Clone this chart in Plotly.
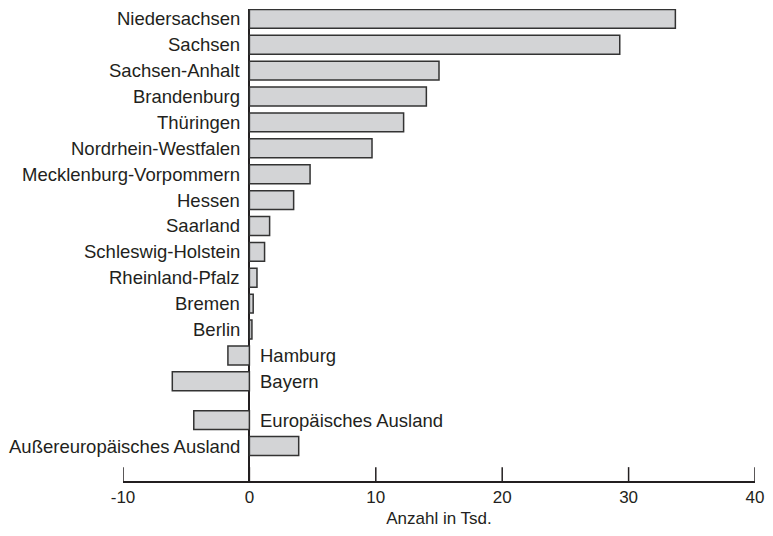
import plotly.graph_objects as go

categories = ["Niedersachsen", "Sachsen", "Sachsen-Anhalt", "Brandenburg", "Thüringen",
              "Nordrhein-Westfalen", "Mecklenburg-Vorpommern", "Hessen", "Saarland",
              "Schleswig-Holstein", "Rheinland-Pfalz", "Bremen", "Berlin", "Hamburg",
              "Bayern", "Europäisches Ausland", "Außereuropäisches Ausland"]
values = [33.7, 29.3, 15.0, 14.0, 12.2, 9.7, 4.8, 3.5, 1.6, 1.2, 0.6, 0.3, 0.2,
          -1.7, -6.1, -4.4, 3.9]
# row positions (gap before the foreign-country rows)
rows = [0, 1, 2, 3, 4, 5, 6, 7, 8, 9, 10, 11, 12, 13, 14, 15.5, 16.5]
x_ticks = [-10, 0, 10, 20, 30, 40]
x_title = "Anzahl in Tsd."

FONT = "Liberation Sans, Arial, sans-serif"
TXT = "#231f20"
FS = 18.5
FS_TICK = 17

# page body has an 8px margin, so the figure is 16px smaller than the window
W, H = 757, 520
M = dict(l=115, r=3, t=1, b=42)
TICKLEN = 14

fig = go.Figure()
fig.add_trace(go.Bar(
    x=values, y=rows, orientation="h", width=0.73,
    marker=dict(color="#d3d4d6", line=dict(color="#333333", width=1.5)),
    hoverinfo="skip",
))

for cat, v, r in zip(categories, values, rows):
    if v >= 0:
        fig.add_annotation(x=0, y=r, text=cat, showarrow=False, xanchor="right",
                           xshift=-7, font=dict(family=FONT, size=FS, color=TXT))
    else:
        fig.add_annotation(x=0, y=r, text=cat, showarrow=False, xanchor="left",
                           xshift=9, font=dict(family=FONT, size=FS, color=TXT))

# upward tick marks on the x axis, placed at the tick values
plot_h = H - M["t"] - M["b"]
for t in x_ticks:
    fig.add_shape(type="line", xref="x", yref="paper", x0=t, x1=t, y0=0,
                  y1=TICKLEN / plot_h, line=dict(color="#231f20", width=1.5))

fig.update_layout(
    width=W, height=H,
    margin=M,
    paper_bgcolor="white", plot_bgcolor="white",
    showlegend=False,
    font=dict(family=FONT, size=FS, color=TXT),
)
fig.update_xaxes(
    range=[-10, 40], tickvals=x_ticks, ticktext=[str(t) for t in x_ticks],
    showgrid=False, zeroline=True, zerolinecolor="#231f20", zerolinewidth=1.5,
    showline=True, linecolor="#231f20", linewidth=1.5,
    ticks="", ticklabeloverflow="allow",
    tickfont=dict(family=FONT, size=FS_TICK, color=TXT),
    title=dict(text=x_title, font=dict(family=FONT, size=FS_TICK, color=TXT), standoff=8),
)
fig.update_yaxes(
    range=[17.85, -0.38], showticklabels=False, showgrid=False, zeroline=False,
    showline=False, ticks="",
)

fig.write_html("out.html")
